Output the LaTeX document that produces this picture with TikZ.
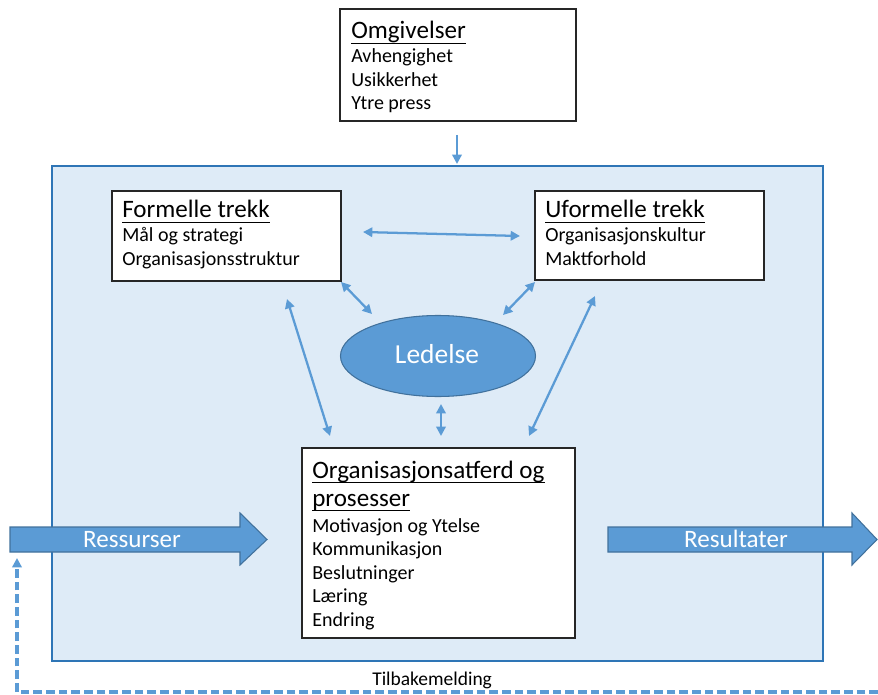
\documentclass[tikz,border=0pt]{standalone}
\usepackage{fontspec}
\setmainfont{Carlito}
\usetikzlibrary{arrows.meta,shapes.geometric,fit,calc}
\definecolor{lightbg}{HTML}{DEEBF7}
\definecolor{midblue}{HTML}{5B9BD5}
\definecolor{frameblue}{HTML}{2E75B6}
\definecolor{edgeblue}{HTML}{41719C}
\begin{document}
\begin{tikzpicture}[x=0.75pt,y=-0.75pt,
  whitebox/.style={draw=black!85, line width=0.9pt, fill=white, inner sep=0pt},
  bigframe/.style={draw=frameblue, line width=2.1pt, fill=lightbg, inner sep=0pt},
  titletext/.style={anchor=base west, inner sep=0pt, font=\fontsize{18.8pt}{22pt}\selectfont},
  bodytext/.style={anchor=base west, inner sep=0pt, font=\fontsize{15pt}{18pt}\selectfont},
  uline/.style={line width=1.1pt},
  link/.style={draw=midblue, line width=1.7pt, {Triangle[length=7pt,width=7pt]}-{Triangle[length=7pt,width=7pt]}},
  onelink/.style={draw=midblue, line width=1.7pt, -{Triangle[length=7pt,width=7pt]}},
  blockarrow/.style={draw=edgeblue, line width=0.8pt, fill=midblue},
  whitetext/.style={text=white, inner sep=0pt, anchor=base},
  feedback/.style={draw=midblue, line width=2.3pt, dash pattern=on 6.5pt off 3pt, -{Triangle[length=7pt,width=7pt]}}
]
\useasboundingbox (0,0) rectangle (878,695);

% main frame
\node[bigframe, fit={(52,166) (823,661)}] (frame) {};

% Omgivelser
\node[whitebox, fit={(340,9) (576,121)}] (omg) {};
\node[titletext] (omgt) at (351,39) {Omgivelser};
\draw[uline] ($(omgt.base west)+(0,4.5)$) -- ($(omgt.base east)+(0,4.5)$);
\foreach \t [count=\i] in {Avhengighet,Usikkerhet,Ytre press}
  \node[bodytext] (omgl\i) at (351,{63+23.3*(\i-1)}) {\t};

% Formelle trekk
\node[whitebox, fit={(112,191) (341,281)}] (form) {};
\node[titletext] (formt) at (122,218) {Formelle trekk};
\draw[uline] ($(formt.base west)+(0,4.5)$) -- ($(formt.base east)+(0,4.5)$);
\foreach \t [count=\i] in {Mål og strategi,Organisasjonsstruktur}
  \node[bodytext] (forml\i) at (122,{242+23.5*(\i-1)}) {\t};

% Uformelle trekk
\node[whitebox, fit={(535,191) (764,280)}] (uform) {};
\node[titletext] (uformt) at (545,218) {Uformelle trekk};
\draw[uline] ($(uformt.base west)+(0,4.5)$) -- ($(uformt.base east)+(0,4.5)$);
\foreach \t [count=\i] in {Organisasjonskultur,Maktforhold}
  \node[bodytext] (uforml\i) at (545,{242+23.5*(\i-1)}) {\t};

% Organisasjonsatferd
\node[whitebox, fit={(302,448) (575,638)}] (proc) {};
\node[titletext] (proct1) at (312,478) {Organisasjonsatferd og};
\draw[uline] ($(proct1.base west)+(0,4.5)$) -- ($(proct1.base east)+(0,4.5)$);
\node[titletext] (proct2) at (312,506) {prosesser};
\draw[uline] ($(proct2.base west)+(0,4.5)$) -- ($(proct2.base east)+(0,4.5)$);
\foreach \t [count=\i] in {Motivasjon og Ytelse,Kommunikasjon,Beslutninger,Læring,Endring}
  \node[bodytext] (procl\i) at (312,{532+23.5*(\i-1)}) {\t};

% Ledelse
\node[ellipse, draw=edgeblue, line width=0.8pt, fill=midblue, minimum width=195*0.75pt, minimum height=81*0.75pt, inner sep=0pt] (led) at (438,356) {};
\node[whitetext, font=\fontsize{20.6pt}{24pt}\selectfont] (ledt) at (437,363) {Ledelse};

% connector end points
\coordinate (omgdown) at (457,135);
\coordinate (framein) at (457,164);
\coordinate (h1) at (363,232);
\coordinate (h2) at (520,236);
\coordinate (fl1) at (341,282);
\coordinate (fl2) at (372,314);
\coordinate (ul1) at (535,282);
\coordinate (ul2) at (503,315);
\coordinate (fp1) at (287,299);
\coordinate (fp2) at (330,436);
\coordinate (up1) at (595,296);
\coordinate (up2) at (529,436);
\coordinate (lp1) at (441,404);
\coordinate (lp2) at (441,436);

\draw[onelink] (omgdown) -- (framein);
\draw[link] (h1) -- (h2);
\draw[link] (fl1) -- (fl2);
\draw[link] (ul1) -- (ul2);
\draw[link] (fp1) -- (fp2);
\draw[link] (up1) -- (up2);
\draw[link] (lp1) -- (lp2);

% block arrows
\draw[blockarrow] (10,527) -- (240,527) -- (240,513) -- (267,539.5) -- (240,565) -- (240,552) -- (10,552) -- cycle;
\node[whitetext, font=\fontsize{18.8pt}{22pt}\selectfont] (res) at (132,547) {Ressurser};
\draw[blockarrow] (608,527) -- (852,527) -- (852,513) -- (877,539.5) -- (852,565) -- (852,552) -- (608,552) -- cycle;
\node[whitetext, font=\fontsize{18.8pt}{22pt}\selectfont] (resl) at (736,547) {Resultater};

% feedback
\coordinate (fbend) at (878,692);
\coordinate (fbcorner) at (17,692);
\coordinate (fbtip) at (17,558);
\draw[feedback] (fbend) -- (fbcorner) -- (fbtip);
\node[bodytext, font=\fontsize{14.6pt}{17pt}\selectfont] (fbt) at (372,685) {Tilbakemelding};
\end{tikzpicture}
\end{document}
